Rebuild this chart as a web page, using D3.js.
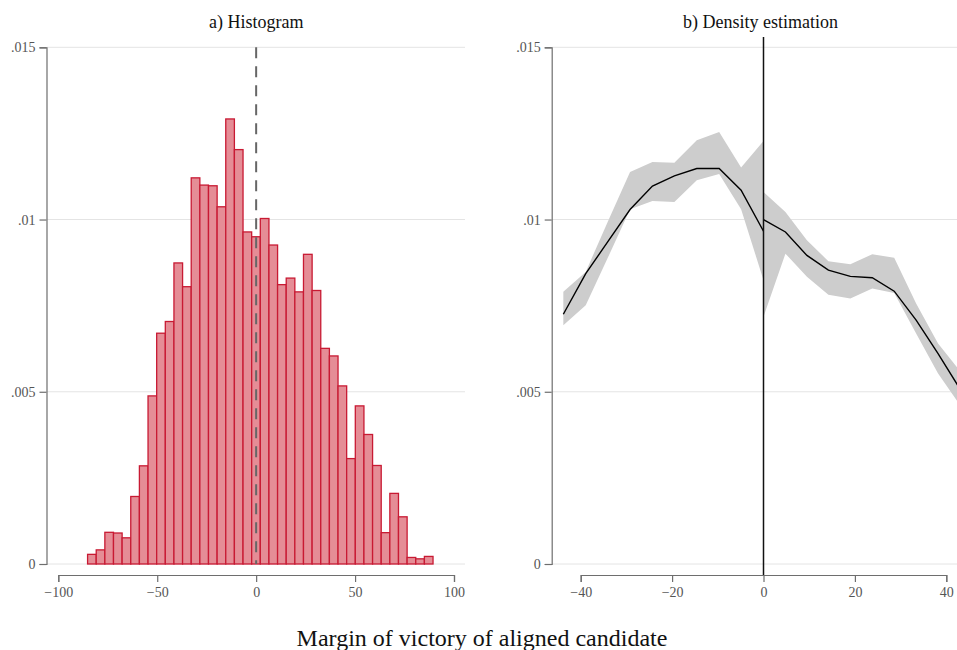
<!DOCTYPE html>
<html>
<head>
<meta charset="utf-8">
<script src="https://cdn.jsdelivr.net/npm/d3@7"></script>
<style>
  html, body { margin: 0; padding: 0; background: #fff; }
  svg { display: block; font-family: "Liberation Serif", "Times New Roman", serif; }
</style>
</head>
<body>
<svg id="chart" width="957" height="650"></svg>
<script>
// Histogram: density per bin (40 bins)
const binStart = -85.2;
const binWidth = 4.365;
const histDensity = [
  0.00028, 0.00041, 0.00092, 0.00090, 0.00076, 0.00196, 0.00285, 0.00488,
  0.00670, 0.00704, 0.00874, 0.00805, 0.01121, 0.01100, 0.01098, 0.01037,
  0.01292, 0.01203, 0.00964, 0.00950, 0.01003, 0.00926, 0.00811, 0.00830,
  0.00790, 0.00899, 0.00794, 0.00626, 0.00604, 0.00517, 0.00306, 0.00459,
  0.00376, 0.00286, 0.00091, 0.00205, 0.00137, 0.00019, 0.00015, 0.00022
];

// Density estimation, left of cutoff
const leftX   = [-43.8, -38.9, -34.1, -29.2, -24.3, -19.5, -14.6, -9.7, -4.9, 0];
const leftFit = [0.00725, 0.00843, 0.00935, 0.01029, 0.01097, 0.01127, 0.01148, 0.01148, 0.01085, 0.00966];
const leftHi  = [0.00790, 0.00848, 0.00993, 0.01138, 0.01167, 0.01165, 0.01230, 0.01254, 0.01151, 0.01228];
const leftLo  = [0.00693, 0.00751, 0.00888, 0.01030, 0.01054, 0.01051, 0.01114, 0.01132, 0.01030, 0.00824];

// Density estimation, right of cutoff
const rightX   = [0, 4.8, 9.5, 14.2, 19.0, 23.8, 28.6, 33.4, 38.2, 43.0];
const rightFit = [0.01000, 0.00964, 0.00896, 0.00853, 0.00835, 0.00831, 0.00792, 0.00708, 0.00611, 0.00508];
const rightHi  = [0.01080, 0.01022, 0.00940, 0.00879, 0.00870, 0.00899, 0.00889, 0.00756, 0.00640, 0.00560];
const rightLo  = [0.00718, 0.00901, 0.00834, 0.00782, 0.00771, 0.00800, 0.00787, 0.00669, 0.00553, 0.00461];

const yTicks = [0, 0.005, 0.01, 0.015];
const histXTicks = [-100, -50, 0, 50, 100];
const densXTicks = [-40, -20, 0, 20, 40];

const svg = d3.select('#chart');
const AXIS_COLOR = '#6e6e6e';
const LABEL_COLOR = '#555';
const GRID_COLOR = '#e4e4e4';

const y = d3.scaleLinear().domain([0, 0.015]).range([564, 47.3]);
const yFormat = d => d === 0 ? '0' : d3.format('.3~f')(d).replace(/^0/, '');

/**
 * Draw the gridlines, the y axis and the x axis of one panel
 */
function drawFrame(g, x, xTicks, axisX, plotLeft, plotRight) {
    // gridlines
    g.append('g')
        .selectAll('line')
        .data(yTicks)
        .enter()
        .append('line')
        .attr('x1', plotLeft)
        .attr('x2', plotRight)
        .attr('y1', d => y(d))
        .attr('y2', d => y(d))
        .attr('stroke', GRID_COLOR)
        .attr('stroke-width', 1);

    // y axis
    const yAxis = g.append('g')
        .attr('transform', `translate(${axisX},0)`)
        .call(d3.axisLeft(y).tickValues(yTicks).tickFormat(yFormat).tickSize(7).tickPadding(4));

    // x axis
    const xAxis = g.append('g')
        .attr('transform', 'translate(0,575)')
        .call(d3.axisBottom(x).tickValues(xTicks).tickFormat(d3.format('d')).tickSize(7).tickPadding(5));

    [yAxis, xAxis].forEach(a => {
        a.selectAll('path, line').attr('stroke', AXIS_COLOR).attr('stroke-width', 1.2);
        a.selectAll('text')
            .attr('fill', LABEL_COLOR)
            .attr('font-size', 14)
            .attr('font-family', '"Liberation Serif", serif');
    });
}

// ---- a) Histogram ----
const xHist = d3.scaleLinear().domain([-100, 100]).range([58.3, 454]);
const gLeft = svg.append('g');
drawFrame(gLeft, xHist, histXTicks, 46.5, 47, 465);

gLeft.append('g')
    .selectAll('rect')
    .data(histDensity)
    .enter()
    .append('rect')
    .attr('x', (d, i) => xHist(binStart + i * binWidth))
    .attr('width', (d, i) => xHist(binStart + (i + 1) * binWidth) - xHist(binStart + i * binWidth))
    .attr('y', d => y(d))
    .attr('height', d => y(0) - y(d))
    .attr('fill', '#e58d96')
    .attr('stroke', '#c81a33')
    .attr('stroke-width', 1.3);

gLeft.append('line')
    .attr('x1', xHist(0)).attr('x2', xHist(0))
    .attr('y1', y(0.015)).attr('y2', y(0))
    .attr('stroke', '#666')
    .attr('stroke-width', 2)
    .attr('stroke-dasharray', '11,8');

gLeft.append('text')
    .attr('x', xHist(0))
    .attr('y', 28)
    .attr('text-anchor', 'middle')
    .attr('font-size', 18)
    .attr('fill', '#111')
    .text('a) Histogram');

// ---- b) Density estimation ----
const xDens = d3.scaleLinear().domain([-40, 40]).range([580.7, 946.3]);
const gRight = svg.append('g');

svg.append('defs').append('clipPath')
    .attr('id', 'clip-right')
    .append('rect')
    .attr('x', 552).attr('y', 0)
    .attr('width', 417).attr('height', 650);

drawFrame(gRight, xDens, densXTicks, 551.7, 552, 969);

const plotG = gRight.append('g').attr('clip-path', 'url(#clip-right)');

const sides = [
    { xs: leftX, fit: leftFit, lo: leftLo, hi: leftHi },
    { xs: rightX, fit: rightFit, lo: rightLo, hi: rightHi }
];

const area = d3.area()
    .x(d => xDens(d.x))
    .y0(d => y(d.lo))
    .y1(d => y(d.hi));

const line = d3.line()
    .x(d => xDens(d.x))
    .y(d => y(d.fit));

sides.forEach(s => {
    const pts = s.xs.map((x, i) => ({ x: x, fit: s.fit[i], lo: s.lo[i], hi: s.hi[i] }));
    plotG.append('path')
        .datum(pts)
        .attr('d', area)
        .attr('fill', '#cdcdcd');
});

sides.forEach(s => {
    const pts = s.xs.map((x, i) => ({ x: x, fit: s.fit[i] }));
    plotG.append('path')
        .datum(pts)
        .attr('d', line)
        .attr('fill', 'none')
        .attr('stroke', '#000')
        .attr('stroke-width', 1.4);
});

gRight.append('line')
    .attr('x1', xDens(0)).attr('x2', xDens(0))
    .attr('y1', 37).attr('y2', 575)
    .attr('stroke', '#111')
    .attr('stroke-width', 1.5);

gRight.append('text')
    .attr('x', 760.5)
    .attr('y', 28)
    .attr('text-anchor', 'middle')
    .attr('font-size', 18)
    .attr('fill', '#111')
    .text('b) Density estimation');

// shared x title
svg.append('text')
    .attr('x', 482)
    .attr('y', 646)
    .attr('text-anchor', 'middle')
    .attr('font-size', 24)
    .attr('fill', '#111')
    .text('Margin of victory of aligned candidate');
</script>
</body>
</html>
